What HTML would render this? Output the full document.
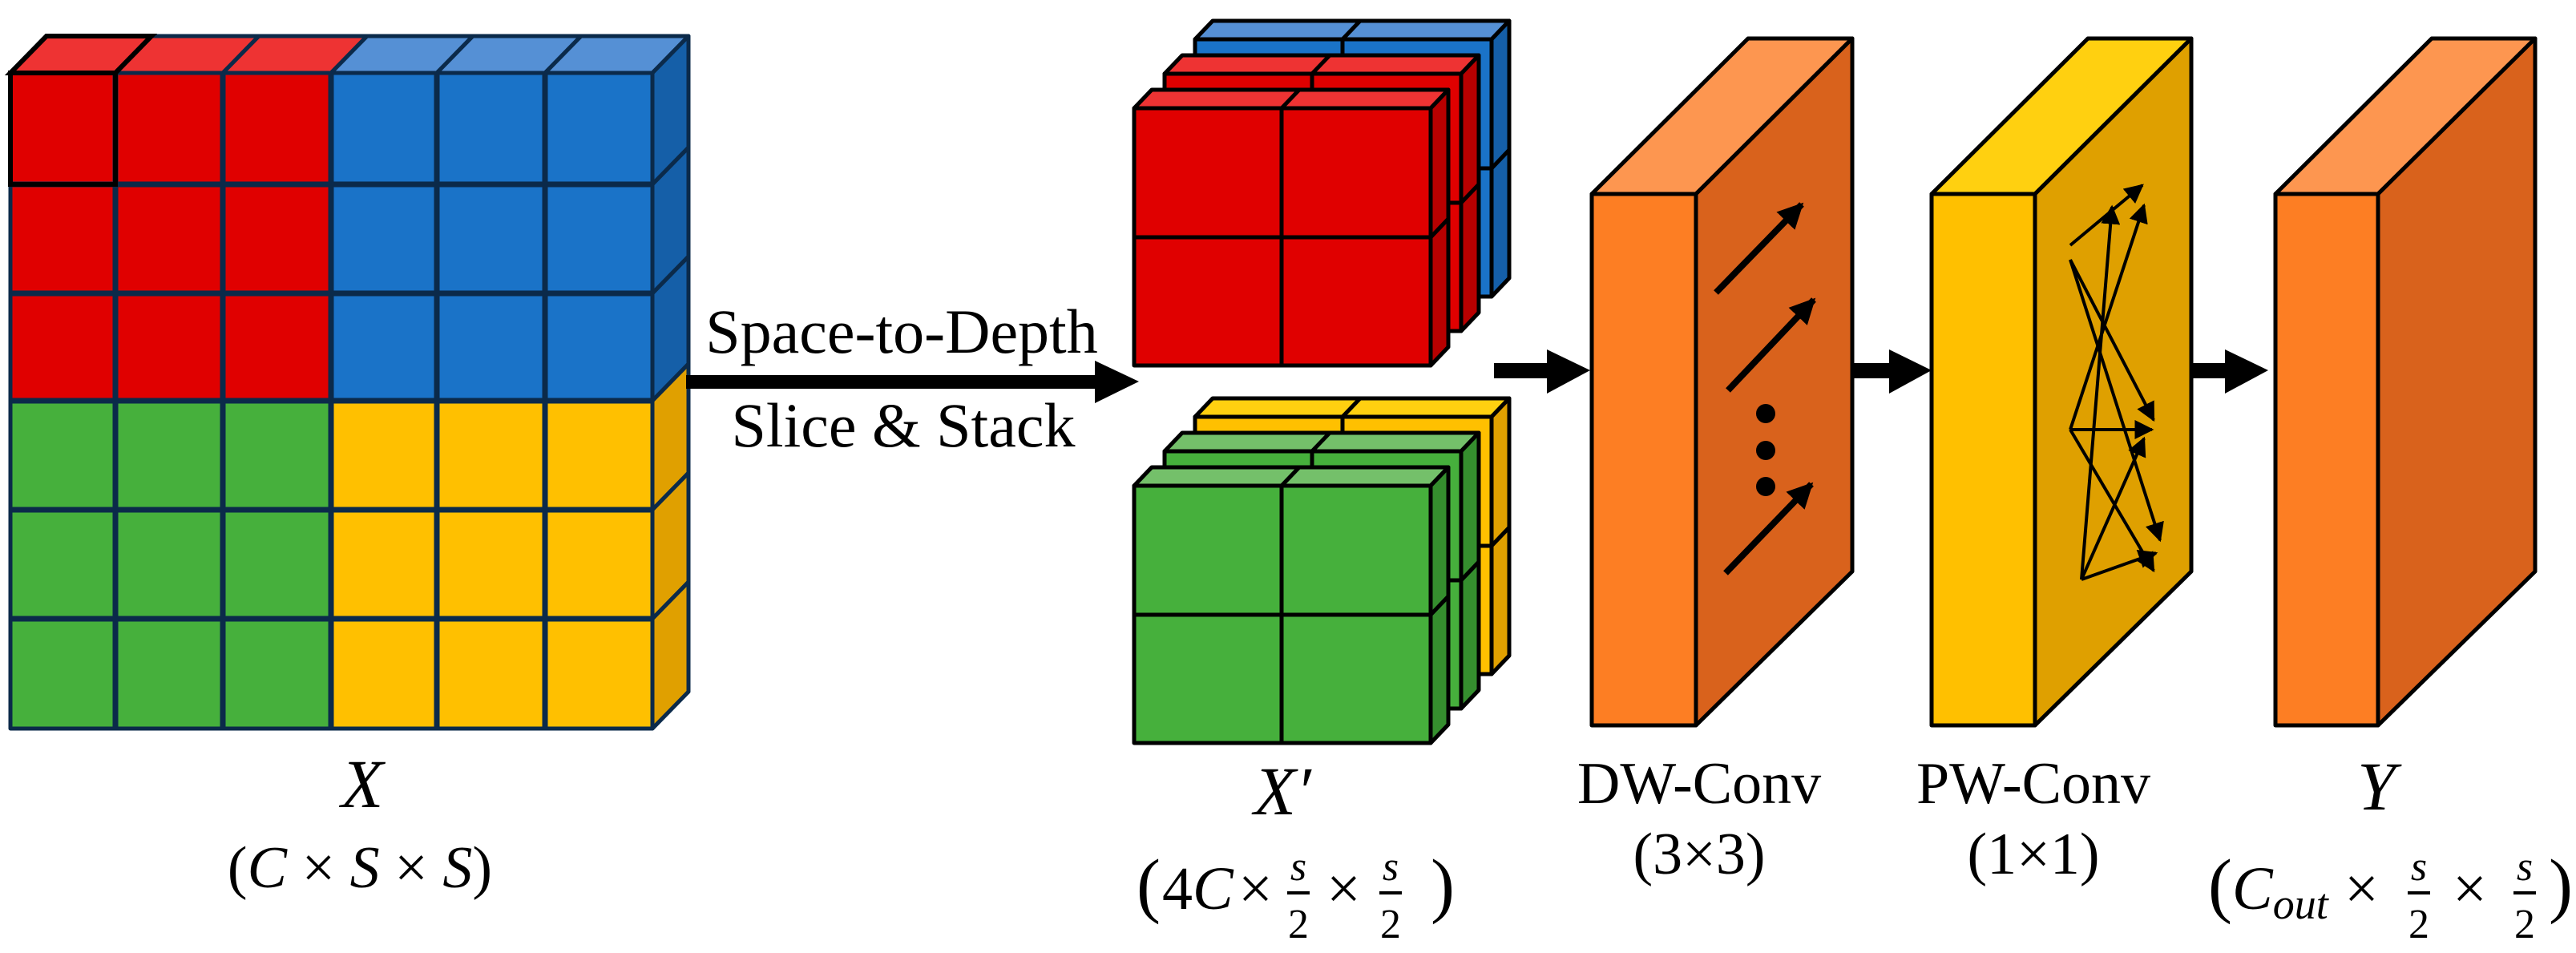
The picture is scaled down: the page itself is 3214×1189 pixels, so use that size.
<!DOCTYPE html>
<html><head><meta charset="utf-8"><style>
html,body{margin:0;padding:0;background:#fff;}
svg{display:block;}
text{font-family:"Liberation Serif",serif;fill:#000;}
</style></head><body>
<svg width="3214" height="1189" viewBox="0 0 3214 1189" xmlns="http://www.w3.org/2000/svg">
<defs>
<marker id="ah" viewBox="0 0 10 10" refX="9" refY="5" markerWidth="4" markerHeight="4" orient="auto" markerUnits="strokeWidth"><path d="M0,0 L10,5 L0,10 z" fill="#000"/></marker>
<marker id="ah2" viewBox="0 0 10 10" refX="9" refY="5" markerWidth="6" markerHeight="6" orient="auto" markerUnits="strokeWidth"><path d="M0,0 L10,5 L0,10 z" fill="#000"/></marker>
</defs>

<!-- Big cube X -->
<g stroke="#0b2a4a" stroke-width="5" stroke-linejoin="round">
  <polygon points="13,91 58,45 189,45 144,91" fill="#ee3333"/>
  <polygon points="144,91 189,45 323,45 278,91" fill="#ee3333"/>
  <polygon points="278,91 323,45 458,45 413,91" fill="#ee3333"/>
  <polygon points="413,91 458,45 590,45 545,91" fill="#5590d5"/>
  <polygon points="545,91 590,45 725,45 680,91" fill="#5590d5"/>
  <polygon points="680,91 725,45 859,45 814,91" fill="#5590d5"/>
  <polygon points="814,91 859,45 859,184 814,230" fill="#155fa8"/>
  <polygon points="814,230 859,184 859,320 814,366" fill="#155fa8"/>
  <polygon points="814,366 859,320 859,454 814,500" fill="#155fa8"/>
  <polygon points="814,500 859,454 859,590 814,636" fill="#e0a000"/>
  <polygon points="814,636 859,590 859,726 814,772" fill="#e0a000"/>
  <polygon points="814,772 859,726 859,863 814,909" fill="#e0a000"/>
  <rect x="13" y="91" width="400" height="409" fill="#e00000"/>
  <rect x="413" y="91" width="401" height="409" fill="#1a73c8"/>
  <rect x="13" y="500" width="400" height="409" fill="#46b03c"/>
  <rect x="413" y="500" width="401" height="409" fill="#ffc000"/>
  <path d="M144,91V909 M278,91V909 M413,91V909 M545,91V909 M680,91V909 M13,230H814 M13,366H814 M13,500H814 M13,636H814 M13,772H814" fill="none" stroke-width="7"/>
</g>
<rect x="13" y="91" width="131" height="139" fill="none" stroke="#000" stroke-width="6"/>
<polygon points="13,91 58,45 189,45 144,91" fill="none" stroke="#000" stroke-width="6"/>

<!-- Space-to-depth arrow -->
<rect x="856" y="468" width="514" height="17" fill="#000"/>
<polygon points="1366,450 1421,476 1366,503" fill="#000"/>
<text x="1125" y="440" font-size="78" text-anchor="middle">Space-to-Depth</text>
<text x="1127" y="557" font-size="78" text-anchor="middle">Slice &amp; Stack</text>

<!-- X labels -->
<text x="452" y="1007" font-size="86" font-style="italic" text-anchor="middle">X</text>
<text x="449" y="1107" font-size="74" text-anchor="middle">(<tspan font-style="italic">C</tspan> × <tspan font-style="italic">S</tspan> × <tspan font-style="italic">S</tspan>)</text>

<!-- Stacks -->
<g stroke="#000" stroke-width="5" stroke-linejoin="round">
  <g transform="translate(76,-86)">
    <polygon points="1415,135 1437,112 1807,112 1785,135" fill="#5590d5"/>
    <polygon points="1785,135 1807,112 1807,433 1785,456" fill="#155fa8"/>
    <rect x="1415" y="135" width="370" height="321" fill="#1a73c8"/>
    <path d="M1599,135V456 M1415,296H1785 M1599,135 L1621,112 M1785,296 L1807,273" fill="none"/>
  </g>
  <g transform="translate(38,-43)">
    <polygon points="1415,135 1437,112 1807,112 1785,135" fill="#ee3333"/>
    <polygon points="1785,135 1807,112 1807,433 1785,456" fill="#b80000"/>
    <rect x="1415" y="135" width="370" height="321" fill="#e00000"/>
    <path d="M1599,135V456 M1415,296H1785 M1599,135 L1621,112 M1785,296 L1807,273" fill="none"/>
  </g>
  <g>
    <polygon points="1415,135 1437,112 1807,112 1785,135" fill="#ee3333"/>
    <polygon points="1785,135 1807,112 1807,433 1785,456" fill="#b80000"/>
    <rect x="1415" y="135" width="370" height="321" fill="#e00000"/>
    <path d="M1599,135V456 M1415,296H1785 M1599,135 L1621,112 M1785,296 L1807,273" fill="none"/>
  </g>
  <g transform="translate(76,385)">
    <polygon points="1415,135 1437,112 1807,112 1785,135" fill="#ffd010"/>
    <polygon points="1785,135 1807,112 1807,433 1785,456" fill="#e0a000"/>
    <rect x="1415" y="135" width="370" height="321" fill="#ffc000"/>
    <path d="M1599,135V456 M1415,296H1785 M1599,135 L1621,112 M1785,296 L1807,273" fill="none"/>
  </g>
  <g transform="translate(38,428)">
    <polygon points="1415,135 1437,112 1807,112 1785,135" fill="#74c06a"/>
    <polygon points="1785,135 1807,112 1807,433 1785,456" fill="#358e2e"/>
    <rect x="1415" y="135" width="370" height="321" fill="#46b03c"/>
    <path d="M1599,135V456 M1415,296H1785 M1599,135 L1621,112 M1785,296 L1807,273" fill="none"/>
  </g>
  <g transform="translate(0,471)">
    <polygon points="1415,135 1437,112 1807,112 1785,135" fill="#74c06a"/>
    <polygon points="1785,135 1807,112 1807,433 1785,456" fill="#358e2e"/>
    <rect x="1415" y="135" width="370" height="321" fill="#46b03c"/>
    <path d="M1599,135V456 M1415,296H1785 M1599,135 L1621,112 M1785,296 L1807,273" fill="none"/>
  </g>
</g>

<!-- X' labels -->
<text x="1600" y="1016" font-size="86" font-style="italic" text-anchor="middle">X′</text>
<g font-size="76">
  <text x="1418" y="1134" font-size="90">(</text>
  <text x="1450" y="1134">4<tspan font-style="italic">C</tspan></text>
  <text x="1545" y="1134">×</text>
  <text x="1655" y="1134">×</text>
  <text x="1785" y="1134" font-size="90">)</text>
</g>
<g font-size="52" text-anchor="middle">
  <text x="1620" y="1098" font-style="italic">s</text><rect x="1606" y="1112" width="28" height="4" fill="#000"/><text x="1620" y="1170">2</text>
  <text x="1735" y="1098" font-style="italic">s</text><rect x="1721" y="1112" width="28" height="4" fill="#000"/><text x="1735" y="1170">2</text>
</g>

<!-- Arrows between blocks -->
<rect x="1864" y="453" width="70" height="19" fill="#000"/>
<polygon points="1930,436 1984,462 1930,491" fill="#000"/>
<rect x="2311" y="453" width="50" height="19" fill="#000"/>
<polygon points="2357,436 2410,462 2357,491" fill="#000"/>
<rect x="2734" y="453" width="46" height="19" fill="#000"/>
<polygon points="2776,436 2830,462 2776,491" fill="#000"/>

<!-- DW block -->
<g stroke="#000" stroke-width="5" stroke-linejoin="round">
  <polygon points="1986,242 2181,48 2311,48 2116,242" fill="#fd9650"/>
  <polygon points="2116,242 2311,48 2311,713 2116,905" fill="#d9621c"/>
  <rect x="1986" y="242" width="130" height="663" fill="#fd7e23"/>
</g>
<g stroke="#000" stroke-width="8" marker-end="url(#ah)">
  <line x1="2141" y1="365" x2="2248" y2="255"/>
  <line x1="2156" y1="487" x2="2263" y2="374"/>
  <line x1="2153" y1="715" x2="2260" y2="604"/>
</g>
<circle cx="2203" cy="516" r="12" fill="#000"/>
<circle cx="2203" cy="562" r="12" fill="#000"/>
<circle cx="2203" cy="607" r="12" fill="#000"/>

<!-- PW block -->
<g stroke="#000" stroke-width="5" stroke-linejoin="round">
  <polygon points="2410,242 2605,48 2734,48 2539,242" fill="#ffd010"/>
  <polygon points="2539,242 2734,48 2734,713 2539,905" fill="#dfa000"/>
  <rect x="2410" y="242" width="129" height="663" fill="#ffc000"/>
</g>
<g stroke="#000" stroke-width="4" marker-end="url(#ah2)" fill="none">
  <line x1="2583" y1="306" x2="2673" y2="231"/>
  <line x1="2583" y1="324" x2="2687" y2="524"/>
  <line x1="2583" y1="324" x2="2695" y2="674"/>
  <line x1="2583" y1="536" x2="2675" y2="256"/>
  <line x1="2583" y1="536" x2="2685" y2="536"/>
  <line x1="2583" y1="536" x2="2687" y2="712"/>
  <line x1="2597" y1="723" x2="2635" y2="258"/>
  <line x1="2597" y1="723" x2="2675" y2="547"/>
  <line x1="2597" y1="723" x2="2690" y2="690"/>
</g>

<!-- Y block -->
<g stroke="#000" stroke-width="5" stroke-linejoin="round">
  <polygon points="2839,242 3034,48 3163,48 2967,242" fill="#fd9650"/>
  <polygon points="2967,242 3163,48 3163,713 2967,905" fill="#d9621c"/>
  <rect x="2839" y="242" width="128" height="663" fill="#fd7e23"/>
</g>

<!-- block labels -->
<text x="2120" y="1002" font-size="74" text-anchor="middle">DW-Conv</text>
<text x="2120" y="1090" font-size="74" text-anchor="middle">(3×3)</text>
<text x="2537" y="1002" font-size="74" text-anchor="middle">PW-Conv</text>
<text x="2537" y="1090" font-size="74" text-anchor="middle">(1×1)</text>
<text x="2965" y="1010" font-size="86" font-style="italic" text-anchor="middle">Y</text>
<g font-size="76">
  <text x="2755" y="1134" font-size="90">(</text>
  <text x="2785" y="1134" font-style="italic">C<tspan font-size="54" dy="12">out</tspan></text>
  <text x="2925" y="1134">×</text>
  <text x="3060" y="1134">×</text>
  <text x="3180" y="1134" font-size="90">)</text>
</g>
<g font-size="52" text-anchor="middle">
  <text x="3018" y="1098" font-style="italic">s</text>
  <rect x="3004" y="1112" width="28" height="4" fill="#000"/>
  <text x="3018" y="1170">2</text>
  <text x="3150" y="1098" font-style="italic">s</text>
  <rect x="3136" y="1112" width="28" height="4" fill="#000"/>
  <text x="3150" y="1170">2</text>
</g>
</svg>
</body></html>
